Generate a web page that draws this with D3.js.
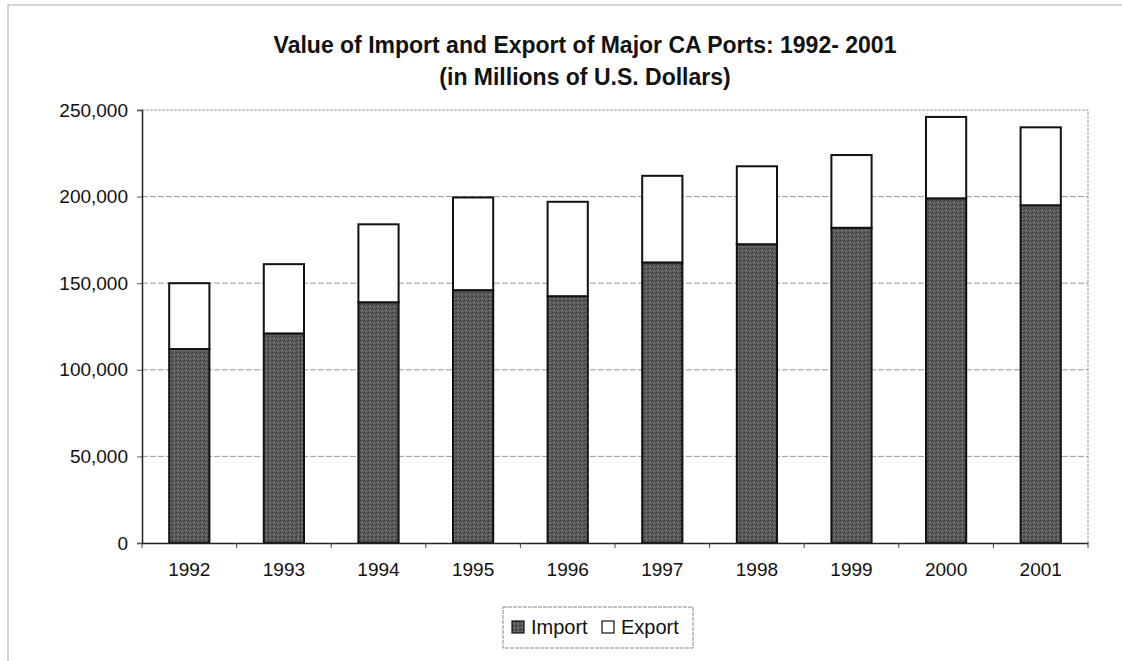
<!DOCTYPE html>
<html>
<head>
<meta charset="utf-8">
<script src="https://cdn.jsdelivr.net/npm/d3@7/dist/d3.min.js"></script>
<style>
  body { margin: 0; background: #fff; }
  svg { display: block; font-family: "Liberation Sans", Arial, sans-serif; }
</style>
</head>
<body>
<div id="chart"></div>
<script>
const years = ["1992", "1993", "1994", "1995", "1996", "1997", "1998", "1999", "2000", "2001"];
const importVals = [112000, 121000, 139000, 146000, 142500, 162000, 172500, 182000, 199000, 195000];
const exportVals = [38000, 40000, 45000, 53500, 54500, 50000, 45000, 42000, 47000, 45000];
const yTicks = [0, 50000, 100000, 150000, 200000, 250000];
const seriesNames = ["Import", "Export"];

const width = 1122, height = 661;
const margin = { top: 110, right: 34, bottom: 118, left: 142 };

const svg = d3.select("#chart").append("svg")
    .attr("width", width)
    .attr("height", height);

// dark grey "scanned" fill for imports
const defs = svg.append("defs");
const pat = defs.append("pattern")
    .attr("id", "importFill")
    .attr("width", 4).attr("height", 4)
    .attr("patternUnits", "userSpaceOnUse");
pat.append("rect").attr("width", 4).attr("height", 4).attr("fill", "#5c5c5c");
pat.append("rect").attr("x", 0).attr("y", 0).attr("width", 1).attr("height", 1).attr("fill", "#2a2a2a");
pat.append("rect").attr("x", 2).attr("y", 2).attr("width", 1).attr("height", 1).attr("fill", "#8a8a8a");
pat.append("rect").attr("x", 3).attr("y", 1).attr("width", 1).attr("height", 1).attr("fill", "#333");

// outer chart frame
svg.append("rect")
    .attr("x", 8).attr("y", 5)
    .attr("width", width + 20).attr("height", height + 20)
    .attr("fill", "none")
    .attr("stroke", "#aaa")
    .attr("stroke-width", 1);

// title
const title = svg.append("text")
    .attr("text-anchor", "middle")
    .attr("font-weight", "bold")
    .attr("font-size", 23)
    .attr("fill", "#111");
title.append("tspan").attr("x", 585).attr("y", 53).text("Value of Import and Export of Major CA Ports: 1992- 2001");
title.append("tspan").attr("x", 585).attr("y", 85).text("(in Millions of U.S. Dollars)");

const x = d3.scaleBand()
    .domain(years)
    .range([margin.left, width - margin.right])
    .paddingInner(0.575)
    .paddingOuter(0.2875);

const y = d3.scaleLinear()
    .domain([0, 250000])
    .range([height - margin.bottom, margin.top]);

const data = years.map((yr, i) => ({ year: yr, Import: importVals[i], Export: exportVals[i] }));
const stacked = d3.stack().keys(seriesNames)(data);

// plot area border (top/right)
svg.append("path")
    .attr("d", `M${margin.left},${y(250000)}H${width - margin.right}V${y(0)}`)
    .attr("fill", "none")
    .attr("stroke", "#999")
    .attr("stroke-dasharray", "3,1");

// gridlines
svg.append("g")
    .selectAll("line")
    .data(yTicks.filter(d => d > 0 && d < 250000))
    .join("line")
    .attr("x1", margin.left).attr("x2", width - margin.right)
    .attr("y1", d => y(d)).attr("y2", d => y(d))
    .attr("stroke", "#999")
    .attr("stroke-dasharray", "6,2");

// bars
const fills = { Import: "url(#importFill)", Export: "#fff" };
svg.append("g")
    .selectAll("g")
    .data(stacked)
    .join("g")
    .attr("fill", d => fills[d.key])
    .selectAll("rect")
    .data(d => d)
    .join("rect")
    .attr("x", d => x(d.data.year))
    .attr("y", d => y(d[1]))
    .attr("width", x.bandwidth())
    .attr("height", d => y(d[0]) - y(d[1]))
    .attr("stroke", "#111")
    .attr("stroke-width", 2);

// y axis
const yAxis = svg.append("g")
    .attr("transform", `translate(${margin.left},0)`)
    .call(d3.axisLeft(y).tickValues(yTicks).tickFormat(d3.format(",")).tickSize(5).tickPadding(9));
yAxis.select(".domain").attr("stroke", "#222").attr("stroke-width", 1.5);
yAxis.selectAll(".tick line").attr("stroke", "#555");
yAxis.selectAll("text").attr("font-size", 19).attr("fill", "#111");

// x axis with ticks between categories
const xAxis = svg.append("g")
    .attr("transform", `translate(0,${y(0)})`)
    .call(d3.axisBottom(x).tickSize(0).tickPadding(20));
xAxis.select(".domain").attr("stroke", "#222").attr("stroke-width", 1.5);
xAxis.selectAll("text").attr("font-size", 19).attr("fill", "#111");
const step = x.step();
xAxis.append("g")
    .selectAll("line")
    .data(d3.range(years.length + 1))
    .join("line")
    .attr("x1", i => margin.left + i * step).attr("x2", i => margin.left + i * step)
    .attr("y1", 0).attr("y2", 5)
    .attr("stroke", "#444");

// legend
const legend = svg.append("g").attr("transform", "translate(503,607)");
legend.append("rect")
    .attr("width", 190).attr("height", 41)
    .attr("fill", "#fff")
    .attr("stroke", "#888")
    .attr("stroke-dasharray", "4,1");
const items = [
    { name: "Import", fill: fills.Import, x: 9 },
    { name: "Export", fill: fills.Export, x: 99 }
];
const li = legend.selectAll(".item").data(items).join("g")
    .attr("transform", d => `translate(${d.x},14)`);
li.append("rect")
    .attr("width", 12).attr("height", 12)
    .attr("fill", d => d.fill)
    .attr("stroke", "#111")
    .attr("stroke-width", 1.2);
li.append("text")
    .attr("x", 19).attr("y", 13)
    .attr("font-size", 20)
    .attr("fill", "#111")
    .text(d => d.name);
</script>
</body>
</html>
